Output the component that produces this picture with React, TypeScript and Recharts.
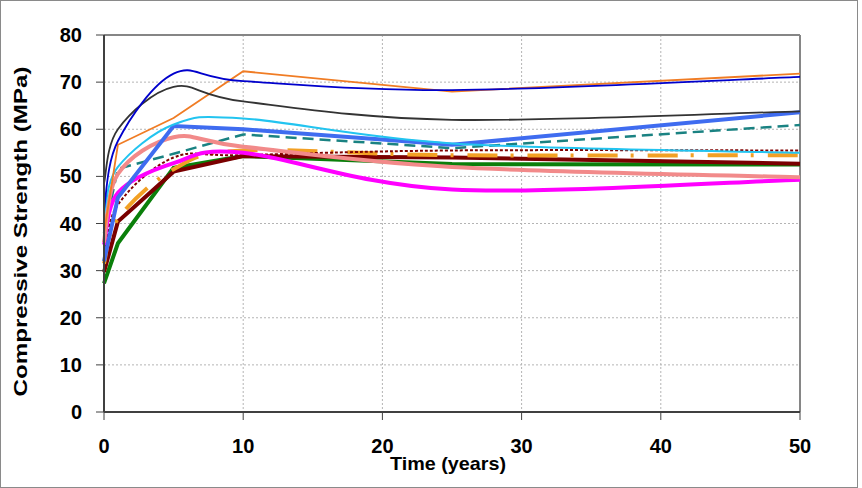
import React from 'react';
import { LineChart, Line, XAxis, YAxis, CartesianGrid, ReferenceLine } from 'recharts';

const years = [0, 1, 5, 10, 25, 50];
const xTicks = [0, 10, 20, 30, 40, 50];
const yTicks = [0, 10, 20, 30, 40, 50, 60, 70, 80];

const navy = [43, 57.5, 71.8, 70.2, 68.3, 71.1];
const darkGray = [48.5, 60, 69, 65.9, 62, 63.8];
const orangeThin = [38, 56.7, 62.4, 72.3, 68, 71.8];
const cyan = [42, 52, 61, 62.3, 57, 55];
const royal = [32, 45.5, 60.7, 60, 56.7, 63.6];
const teal = [38, 51.6, 54.8, 58.9, 56, 60.9];
const salmon = [36, 50.5, 58.3, 56.3, 52, 49.8];
const magenta = [35.5, 46.5, 52.8, 55, 47.2, 49.3];
const maroonDot = [33, 44, 54, 54.5, 55.5, 55.5];
const orangeDash = [31.5, 41, 51.5, 55.5, 54.5, 54.5];
const maroon = [29.7, 40.4, 51, 54.3, 54, 52.7];
const green = [27.3, 35.8, 51.8, 54.3, 52.6, 52.5];

const data = years.map((year, i) => ({
  year,
  navy: navy[i],
  darkGray: darkGray[i],
  orangeThin: orangeThin[i],
  cyan: cyan[i],
  royal: royal[i],
  teal: teal[i],
  salmon: salmon[i],
  magenta: magenta[i],
  maroonDot: maroonDot[i],
  orangeDash: orangeDash[i],
  maroon: maroon[i],
  green: green[i],
}));

// Excel-like smoothed line (Catmull-Rom through the points)
const smoothCurve = (context: any) => {
  let pts: number[][] = [];
  return {
    areaStart() {},
    areaEnd() {},
    lineStart() {
      pts = [];
    },
    point(x: number, y: number) {
      pts.push([+x, +y]);
    },
    lineEnd() {
      const n = pts.length;
      if (!n) return;
      context.moveTo(pts[0][0], pts[0][1]);
      for (let i = 0; i < n - 1; i++) {
        const p0 = pts[i - 1] || pts[i];
        const p1 = pts[i];
        const p2 = pts[i + 1];
        const p3 = pts[i + 2] || pts[i + 1];
        const c1x = p1[0] + (p2[0] - p0[0]) / 6;
        const c1y = p1[1] + (p2[1] - p0[1]) / 6;
        const c2x = p2[0] - (p3[0] - p1[0]) / 6;
        const c2y = p2[1] - (p3[1] - p1[1]) / 6;
        context.bezierCurveTo(c1x, c1y, c2x, c2y, p2[0], p2[1]);
      }
    },
  };
};

const font = "'Liberation Sans', Arial, sans-serif";
const tickStyle = { fontFamily: font, fontWeight: 700, fontSize: 20, fill: '#000' };

const YTitle = (props: any) => {
  const vb = props.viewBox || {};
  const cx = 21;
  const cy = (vb.y || 0) + (vb.height || 0) / 2 + 8;
  return (
    <text
      x={cx}
      y={cy}
      transform={`rotate(-90, ${cx}, ${cy})`}
      textAnchor="middle"
      dominantBaseline="central"
      textLength={330}
      lengthAdjust="spacingAndGlyphs"
      style={{ fontFamily: font, fontWeight: 700, fontSize: 18, fill: '#000' }}
    >
      Compressive Strength (MPa)
    </text>
  );
};

const XTitle = (props: any) => {
  const vb = props.viewBox || {};
  const cx = (vb.x || 0) + (vb.width || 0) / 2 - 4;
  return (
    <text
      x={cx}
      y={470}
      textAnchor="middle"
      textLength={116}
      lengthAdjust="spacingAndGlyphs"
      style={{ fontFamily: font, fontWeight: 700, fontSize: 19, fill: '#000' }}
    >
      Time (years)
    </text>
  );
};

export default function App() {
  return (
    <div style={{ position: 'absolute', left: 0, top: 0, width: 862, height: 488 }}>
      <div
        style={{
          position: 'absolute',
          left: 0,
          top: 0,
          width: 858,
          height: 488,
          boxSizing: 'border-box',
          border: '1px solid #8a8a8a',
        }}
      />
      <div style={{ position: 'absolute', left: 0, top: 0 }}>
        <LineChart
          width={860}
          height={488}
          data={data}
          margin={{ top: 35, right: 60, bottom: 0, left: 0 }}
        >
          <CartesianGrid stroke="#b4b4b4" strokeDasharray="2 2" />
          <XAxis
            dataKey="year"
            type="number"
            domain={[0, 50]}
            ticks={xTicks}
            height={76}
            tickSize={8}
            tickMargin={19}
            axisLine={{ stroke: '#404040', strokeWidth: 2 }}
            tickLine={{ stroke: '#404040', strokeWidth: 1 }}
            tick={tickStyle}
            label={<XTitle />}
          />
          <YAxis
            type="number"
            domain={[0, 80]}
            ticks={yTicks}
            width={104}
            tickSize={8}
            tickMargin={14}
            axisLine={{ stroke: '#404040', strokeWidth: 2 }}
            tickLine={{ stroke: '#404040', strokeWidth: 1 }}
            tick={tickStyle}
            label={<YTitle />}
          />
          <ReferenceLine y={80} stroke="#868686" strokeWidth={2} />
          <ReferenceLine x={50} stroke="#868686" strokeWidth={2} />
          <Line dataKey="green" type="linear" stroke="#0A7F0A" strokeWidth={4} dot={false} isAnimationActive={false} />
          <Line dataKey="maroon" type="linear" stroke="#7A0000" strokeWidth={4} dot={false} isAnimationActive={false} />
          <Line dataKey="orangeDash" type={smoothCurve as any} stroke="#F2A024" strokeWidth={4} strokeDasharray="30 13 3 14" dot={false} isAnimationActive={false} />
          <Line dataKey="maroonDot" type={smoothCurve as any} stroke="#800000" strokeWidth={2} strokeDasharray="3 2" dot={false} isAnimationActive={false} />
          <Line dataKey="teal" type="linear" stroke="#1A8282" strokeWidth={2.5} strokeDasharray="11 6" dot={false} isAnimationActive={false} />
          <Line dataKey="magenta" type={smoothCurve as any} stroke="#FF00FF" strokeWidth={4} dot={false} isAnimationActive={false} />
          <Line dataKey="salmon" type={smoothCurve as any} stroke="#F28A8A" strokeWidth={4} dot={false} isAnimationActive={false} />
          <Line dataKey="royal" type="linear" stroke="#3F6CF0" strokeWidth={4} dot={false} isAnimationActive={false} />
          <Line dataKey="cyan" type={smoothCurve as any} stroke="#22C4F0" strokeWidth={2} dot={false} isAnimationActive={false} />
          <Line dataKey="orangeThin" type="linear" stroke="#F07C24" strokeWidth={1.8} dot={false} isAnimationActive={false} />
          <Line dataKey="darkGray" type={smoothCurve as any} stroke="#333333" strokeWidth={1.8} dot={false} isAnimationActive={false} />
          <Line dataKey="navy" type={smoothCurve as any} stroke="#0000CC" strokeWidth={1.8} dot={false} isAnimationActive={false} />
        </LineChart>
      </div>
    </div>
  );
}
